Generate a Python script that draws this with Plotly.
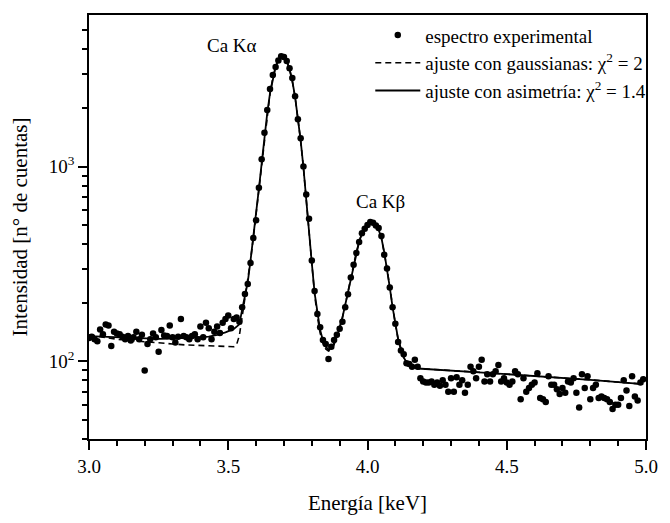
import numpy as np
import plotly.graph_objects as go

# Energy grid of the measured spectrum (keV), 10 eV channels
energy = np.round(np.arange(3.00, 5.00, 0.01), 2)

# Experimental counts
counts = [
    # 3.00 - 3.54
    132, 134, 130, 127, 146, 138, 155, 153, 120, 142,
    139, 138, 134, 130, 135, 128, 133, 142, 130, 137,
    90, 123, 130, 139, 133, 112, 145, 136, 135, 153,
    133, 125, 134, 165, 135, 133, 130, 135, 138, 130,
    151, 133, 158, 148, 130, 142, 151, 140, 158, 165,
    172, 148, 165, 168, 160,
    # 3.55 - 4.19
    190, 222, 250, 320, 430, 530, 780, 1090, 1490, 1950,
    2500, 2950, 3250, 3500, 3680, 3650, 3480, 3200, 2850, 2300,
    1750, 1400, 1000, 720, 540, 330, 230, 175, 150, 129,
    123, 103, 119, 129, 137, 147, 160, 190, 221, 270,
    314, 360, 410, 455, 480, 501, 520, 515, 498, 484,
    440, 353, 300, 240, 190, 156, 126, 114, 109, 98,
    97, 94, 102, 94, 82,
    # 4.20 - 4.99
    79, 78, 78, 79, 76, 78, 75, 80, 76, 70,
    82, 70, 83, 76, 80, 69, 76, 94, 89, 82,
    94, 102, 79, 86, 79, 86, 89, 96, 79, 82,
    78, 76, 79, 89, 86, 64, 82, 70, 73, 76,
    78, 87, 65, 64, 62, 84, 76, 76, 72, 68,
    73, 69, 79, 78, 82, 69, 58, 86, 73, 84,
    64, 73, 76, 65, 66, 65, 64, 62, 57, 60,
    60, 65, 80, 71, 59, 84, 66, 63, 78, 81,
]

# Fit with asymmetric peaks (solid)
fit_asym_E = [3.00, 3.05, 3.10, 3.15, 3.20, 3.25, 3.30, 3.35, 3.40, 3.43,
              3.46, 3.49, 3.52, 3.54, 3.55, 3.56, 3.57, 3.58, 3.59, 3.60,
              3.61, 3.62, 3.63, 3.64, 3.65, 3.66, 3.67, 3.68, 3.69, 3.70,
              3.71, 3.72, 3.73, 3.74, 3.75, 3.76, 3.77, 3.78, 3.79, 3.80,
              3.81, 3.82, 3.83, 3.84, 3.85, 3.86, 3.87, 3.88, 3.89, 3.90,
              3.91, 3.92, 3.93, 3.94, 3.95, 3.96, 3.97, 3.98, 3.99, 4.00,
              4.01, 4.02, 4.03, 4.04, 4.05, 4.06, 4.07, 4.08, 4.09, 4.10,
              4.11, 4.12, 4.13, 4.14, 4.15, 4.16, 4.17, 4.18, 4.40, 4.60,
              4.80, 4.99]
fit_asym = [135, 134, 133, 132, 131, 130.5, 131, 132, 133, 134,
            137, 141, 147, 155, 185, 215, 255, 330, 430, 570,
            770, 1040, 1420, 1880, 2380, 2850, 3250, 3540, 3680, 3660,
            3480, 3170, 2750, 2280, 1800, 1360, 990, 700, 480, 320,
            225, 175, 145, 128, 119, 115, 117, 124, 135, 148,
            168, 195, 228, 268, 315, 365, 412, 455, 488, 510,
            520, 515, 500, 475, 430, 365, 300, 240, 190, 155,
            130, 115, 105, 99, 96, 94, 93, 92, 88, 84.5,
            80.5, 76.5]

# Fit with pure gaussians (dashed)
fit_gauss_E = [3.00, 3.05, 3.10, 3.15, 3.20, 3.25, 3.30, 3.35, 3.40, 3.45,
               3.50, 3.52, 3.53, 3.54, 3.55, 3.56, 3.57, 3.58, 3.59, 3.60,
               3.61, 3.62, 3.63, 3.64, 3.65, 3.66, 3.67, 3.68, 3.69, 3.70,
               3.71, 3.72, 3.73, 3.74, 3.75, 3.76, 3.77, 3.78, 3.79, 3.80,
               3.81, 3.82, 3.83, 3.84, 3.85, 3.86, 3.87, 3.88, 3.89, 3.90,
               3.91, 3.92, 3.93, 3.94, 3.95, 3.96, 3.97, 3.98, 3.99, 4.00,
               4.01, 4.02, 4.03, 4.04, 4.05, 4.06, 4.07, 4.08, 4.09, 4.10,
               4.11, 4.12, 4.13, 4.14, 4.15, 4.16, 4.17, 4.18, 4.40, 4.60,
               4.80, 4.99]
fit_gauss = [137, 133, 130, 128, 126, 124.5, 123, 121.5, 120.5, 119.5,
             119, 119, 122, 136, 170, 210, 255, 330, 430, 570,
             770, 1040, 1420, 1880, 2380, 2850, 3250, 3540, 3680, 3660,
             3480, 3170, 2750, 2280, 1800, 1360, 990, 700, 480, 320,
             222, 170, 140, 124, 116, 113, 115, 122, 134, 148,
             168, 195, 228, 268, 315, 365, 412, 455, 488, 510,
             520, 515, 500, 475, 430, 365, 300, 240, 190, 155,
             130, 115, 105, 99, 96, 94, 93, 92, 88, 84.5,
             80.5, 76.5]

labels = ["espectro experimental",
          "ajuste con gaussianas: χ<sup>2</sup> = 2",
          "ajuste con asimetría: χ<sup>2</sup> = 1.4"]

x_ticks = [3.0, 3.5, 4.0, 4.5, 5.0]
x_ticktext = ["3.0", "3.5", "4.0", "4.5", "5.0"]
y_ticks = [100, 1000]
y_ticktext = ["10<sup>2</sup>", "10<sup>3</sup>"]
y_minor = [40, 50, 60, 70, 80, 90, 200, 300, 400, 500, 600, 700, 800, 900,
           2000, 3000, 4000, 5000]

peak_labels = ["Ca Kα", "Ca Kβ"]
peak_label_E = [3.515, 4.045]
peak_label_I = [4200, 665]

FONT = "Liberation Serif, Times New Roman, serif"

fig = go.Figure()
fig.add_trace(go.Scatter(x=fit_gauss_E, y=fit_gauss, mode="lines", name=labels[1],
                         line=dict(color="black", width=1.6, dash="6px,4px"),
                         legendrank=2))
fig.add_trace(go.Scatter(x=fit_asym_E, y=fit_asym, mode="lines", name=labels[2],
                         line=dict(color="black", width=1.8), legendrank=3))
fig.add_trace(go.Scatter(x=energy, y=counts, mode="markers", name=labels[0],
                         marker=dict(color="black", size=6.5), legendrank=1))

for t, xe, yi in zip(peak_labels, peak_label_E, peak_label_I):
    fig.add_annotation(x=xe, y=np.log10(yi), text=t, showarrow=False,
                       font=dict(family=FONT, size=19, color="black"))

fig.update_layout(
    width=670, height=523,
    margin=dict(l=89, r=15, t=15, b=80),
    paper_bgcolor="white", plot_bgcolor="white",
    font=dict(family=FONT, size=19, color="black"),
    showlegend=True,
    legend=dict(x=0.505, y=0.997, xanchor="left", yanchor="top",
                bgcolor="rgba(0,0,0,0)", borderwidth=0,
                font=dict(family=FONT, size=19, color="black"),
                itemwidth=45, tracegroupgap=0),
    xaxis=dict(range=[3.0, 5.0], tickvals=x_ticks, ticktext=x_ticktext,
               ticks="outside", ticklen=9, tickwidth=1.5, tickcolor="black",
               showline=True, linecolor="black", linewidth=1.8, mirror=True,
               showgrid=False, zeroline=False,
               minor=dict(dtick=0.1, tick0=3.0, ticks="outside", ticklen=5,
                          tickwidth=1.5, tickcolor="black", showgrid=False),
               title=dict(text="Energía [keV]", font=dict(family=FONT, size=21),
                          standoff=20),
               tickfont=dict(family=FONT, size=19)),
    yaxis=dict(type="log", range=[np.log10(40), np.log10(6000)],
               tickmode="array", tickvals=y_ticks, ticktext=y_ticktext,
               ticks="outside", ticklen=9, tickwidth=1.5, tickcolor="black",
               showline=True, linecolor="black", linewidth=1.8, mirror=True,
               showgrid=False, zeroline=False,
               minor=dict(tickmode="array", tickvals=y_minor, ticks="outside",
                          ticklen=5, tickwidth=1.5, tickcolor="black",
                          showgrid=False),
               title=dict(text="Intensidad [n° de cuentas]",
                          font=dict(family=FONT, size=21), standoff=15),
               tickfont=dict(family=FONT, size=19)),
)

fig.write_html("out.html")
